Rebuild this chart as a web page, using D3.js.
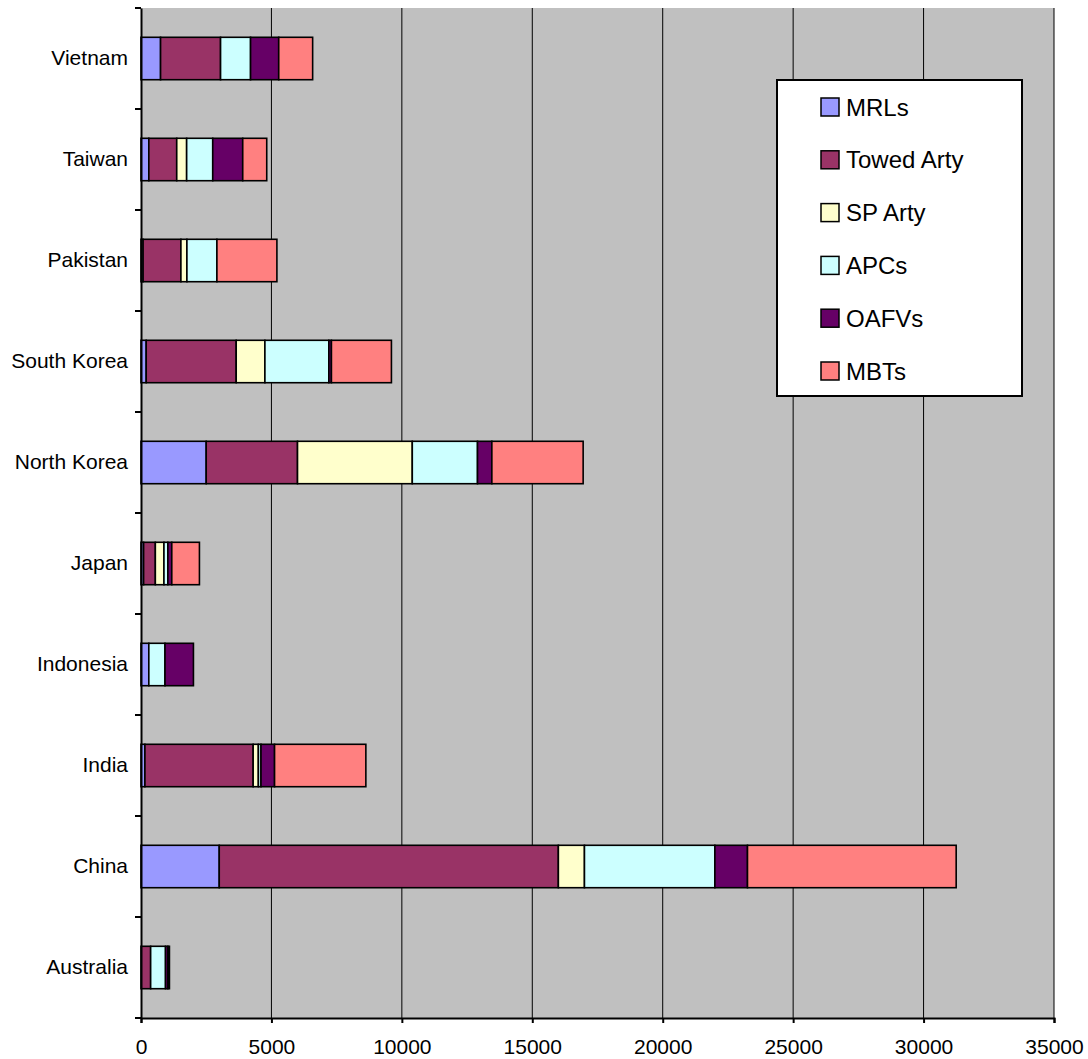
<!DOCTYPE html>
<html>
<head>
<meta charset="utf-8">
<script src="https://d3js.org/d3.v7.min.js"></script>
<style>
    body { margin: 0; background: #fff; }
    text { font-family: "Liberation Sans", Arial, sans-serif; }
</style>
</head>
<body>
<script>
// Data, bottom category first like Excel does
var countries = ["Australia", "China", "India", "Indonesia", "Japan",
    "North Korea", "South Korea", "Pakistan", "Taiwan", "Vietnam"];
var seriesNames = ["MRLs", "Towed Arty", "SP Arty", "APCs", "OAFVs", "MBTs"];
var mrls   = [0, 3000, 150, 300, 100, 2500, 200, 80, 300, 750];
var towed  = [370, 13000, 4150, 0, 450, 3500, 3450, 1450, 1070, 2300];
var spArty = [0, 1000, 200, 0, 330, 4400, 1100, 230, 380, 0];
var apcs   = [570, 5000, 100, 620, 150, 2500, 2450, 1150, 1000, 1150];
var oafvs  = [90, 1250, 520, 1090, 150, 550, 100, 0, 1150, 1080];
var mbts   = [60, 8000, 3500, 0, 1060, 3500, 2300, 2300, 920, 1300];
var xTicks = [0, 5000, 10000, 15000, 20000, 25000, 30000, 35000];

var colors = ["#9999FF", "#993366", "#FFFFCC", "#CCFFFF", "#660066", "#FF8080"];

var margin = {top: 8, right: 34, bottom: 41, left: 141},
    width = 1088 - margin.left - margin.right,
    height = 1059 - margin.top - margin.bottom;

// build rows for d3.stack
var allSeries = [mrls, towed, spArty, apcs, oafvs, mbts];
var table = countries.map(function(c, i) {
    var row = {country: c};
    seriesNames.forEach(function(s, j) { row[s] = allSeries[j][i]; });
    return row;
});

var svg = d3.select("body").append("svg")
    .attr("width", 1088)
    .attr("height", 1059)
    .append("g")
    .attr("transform", "translate(" + margin.left + "," + margin.top + ")");

var x = d3.scaleLinear().domain([0, 35000]).range([0, width]);
// top-to-bottom order is reversed
var y = d3.scaleBand()
    .domain(countries.slice().reverse())
    .range([0, height])
    .paddingInner(0.58)
    .paddingOuter(0.29);

// grey plot area
svg.append("rect")
    .attr("width", width)
    .attr("height", height)
    .attr("fill", "#C0C0C0");

// vertical gridlines
svg.selectAll(".grid")
    .data(xTicks.slice(1))
    .enter()
    .append("line")
    .attr("x1", function(d) { return x(d); })
    .attr("x2", function(d) { return x(d); })
    .attr("y1", 0)
    .attr("y2", height)
    .attr("stroke", "#000")
    .attr("stroke-width", 1);

var stacked = d3.stack().keys(seriesNames)(table);

svg.selectAll(".series")
    .data(stacked)
    .enter()
    .append("g")
    .attr("fill", function(d, i) { return colors[i]; })
    .selectAll("rect")
    .data(function(d) { return d.filter(function(p) { return p[1] > p[0]; }); })
    .enter()
    .append("rect")
    .attr("x", function(d) { return x(d[0]); })
    .attr("y", function(d) { return y(d.data.country); })
    .attr("width", function(d) { return x(d[1]) - x(d[0]); })
    .attr("height", y.bandwidth())
    .attr("stroke", "#000")
    .attr("stroke-width", 1.6);

// x axis
var xAxis = svg.append("g")
    .attr("transform", "translate(0," + height + ")")
    .call(d3.axisBottom(x).tickValues(xTicks).tickSize(5).tickPadding(16)
        .tickFormat(d3.format("d")));
xAxis.select(".domain").attr("stroke-width", 2);
xAxis.selectAll(".tick line").attr("stroke-width", 2);
xAxis.selectAll("text")
    .attr("font-size", "21px")
    .attr("fill", "#000")
    .style("font-family", "'Liberation Sans', Arial, sans-serif");

// y axis: labels centred on bands, ticks between categories
var yAxis = svg.append("g")
    .call(d3.axisLeft(y).tickSize(0).tickPadding(13));
yAxis.select(".domain").attr("stroke-width", 2);
yAxis.selectAll("text")
    .attr("font-size", "21px")
    .attr("fill", "#000")
    .style("font-family", "'Liberation Sans', Arial, sans-serif");

var bounds = d3.range(countries.length + 1).map(function(i) {
    return i * y.step();
});
svg.selectAll(".ytick")
    .data(bounds)
    .enter()
    .append("line")
    .attr("x1", -6)
    .attr("x2", 0)
    .attr("y1", function(d) { return d; })
    .attr("y2", function(d) { return d; })
    .attr("stroke", "#000")
    .attr("stroke-width", 2);

// legend box
var legend = svg.append("g")
    .attr("transform", "translate(" + (777 - margin.left) + "," + (80 - margin.top) + ")");
legend.append("rect")
    .attr("width", 245)
    .attr("height", 316)
    .attr("fill", "#fff")
    .attr("stroke", "#000")
    .attr("stroke-width", 2);

var item = legend.selectAll(".item")
    .data(seriesNames)
    .enter()
    .append("g")
    .attr("transform", function(d, i) {
        return "translate(0," + (27 + i * 52.8) + ")";
    });
item.append("rect")
    .attr("x", 44)
    .attr("y", -9)
    .attr("width", 18)
    .attr("height", 18)
    .attr("fill", function(d, i) { return colors[i]; })
    .attr("stroke", "#000")
    .attr("stroke-width", 1.5);
item.append("text")
    .attr("x", 69)
    .attr("dy", "0.36em")
    .attr("font-size", "24px")
    .text(function(d) { return d; });
</script>
</body>
</html>
